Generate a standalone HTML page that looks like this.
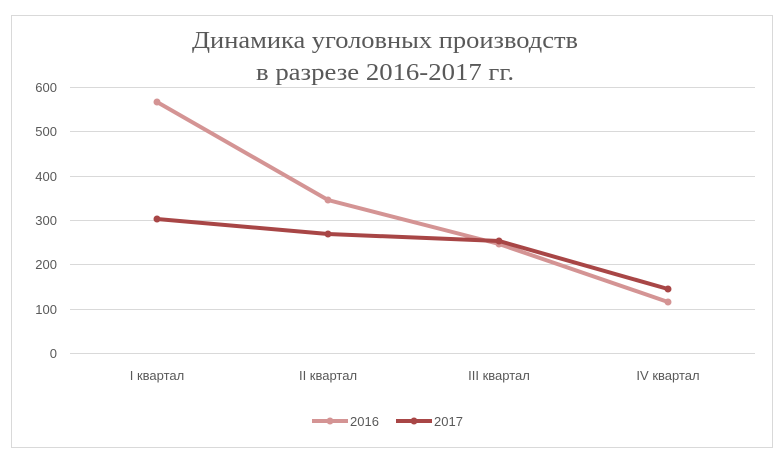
<!DOCTYPE html>
<html><head><meta charset="utf-8"><style>
html,body{margin:0;padding:0;background:#fff;width:773px;height:460px;overflow:hidden}
.s{font-family:"Liberation Sans",sans-serif}
.t{font-family:"Liberation Serif",serif}
</style></head><body>
<svg width="773" height="460" viewBox="0 0 773 460" xmlns="http://www.w3.org/2000/svg">
<rect x="11.5" y="15.5" width="761" height="432" fill="#fff" stroke="#d9d9d9"/>
<g class="t" fill="#595959" font-size="24" text-anchor="middle">
<text x="385" y="48" textLength="386" lengthAdjust="spacingAndGlyphs">Динамика  уголовных производств</text>
<text x="385" y="80" textLength="258" lengthAdjust="spacingAndGlyphs">в разрезе 2016-2017 гг.</text>
</g>
<g stroke="#d9d9d9" stroke-width="1">
<line x1="70" x2="755" y1="87.5" y2="87.5"/>
<line x1="70" x2="755" y1="131.5" y2="131.5"/>
<line x1="70" x2="755" y1="176.5" y2="176.5"/>
<line x1="70" x2="755" y1="220.5" y2="220.5"/>
<line x1="70" x2="755" y1="264.5" y2="264.5"/>
<line x1="70" x2="755" y1="309.5" y2="309.5"/>
<line x1="70" x2="755" y1="353.5" y2="353.5"/>
</g>
<g class="s" font-size="13" fill="#595959" text-anchor="end">
<text x="57" y="92">600</text><text x="57" y="136">500</text><text x="57" y="181">400</text>
<text x="57" y="225">300</text><text x="57" y="269">200</text><text x="57" y="314">100</text><text x="57" y="358">0</text>
</g>
<g class="s" font-size="13" fill="#595959" text-anchor="middle">
<text x="157" y="380">I квартал</text><text x="328" y="380">II квартал</text>
<text x="499" y="380">III квартал</text><text x="668" y="380">IV квартал</text>
</g>
<g stroke="#d49494" stroke-width="4" fill="#d49494">
<polyline fill="none" points="157,102 328,200 499,244 668,302"/>
<circle cx="157" cy="102" r="3" stroke-width="1"/><circle cx="328" cy="200" r="3" stroke-width="1"/><circle cx="499" cy="244" r="3" stroke-width="1"/><circle cx="668" cy="302" r="3" stroke-width="1"/>
</g>
<g stroke="#a84646" stroke-width="4" fill="#a84646">
<polyline fill="none" points="157,219 328,234 499,241 668,289"/>
<circle cx="157" cy="219" r="3" stroke-width="1"/><circle cx="328" cy="234" r="3" stroke-width="1"/><circle cx="499" cy="241" r="3" stroke-width="1"/><circle cx="668" cy="289" r="3" stroke-width="1"/>
</g>
<line x1="312" x2="348" y1="421" y2="421" stroke="#d49494" stroke-width="4"/>
<circle cx="330" cy="421" r="3.5" fill="#d49494"/>
<text class="s" x="350" y="426" font-size="13" fill="#595959">2016</text>
<line x1="396" x2="432" y1="421" y2="421" stroke="#a84646" stroke-width="4"/>
<circle cx="414" cy="421" r="3.5" fill="#a84646"/>
<text class="s" x="434" y="426" font-size="13" fill="#595959">2017</text>
</svg>
</body></html>
